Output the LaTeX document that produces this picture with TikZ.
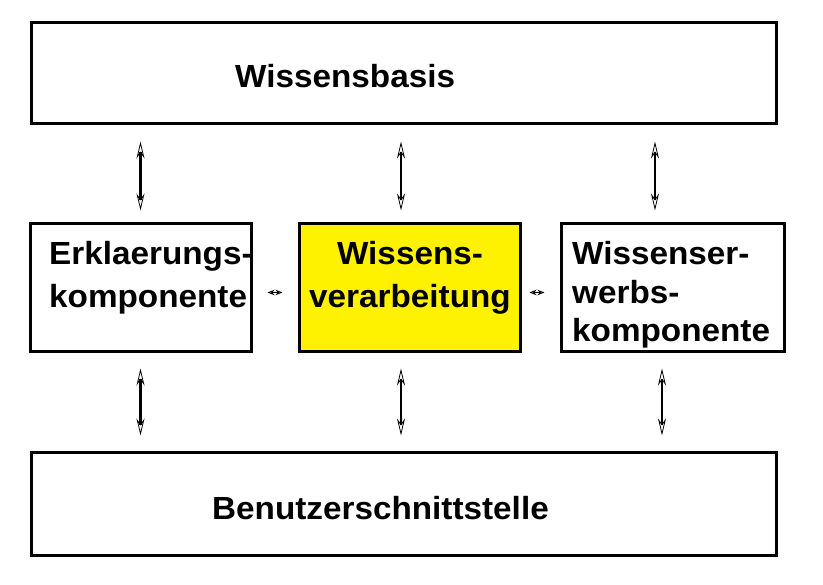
\documentclass[tikz,border=0pt]{standalone}
\usepackage{fontspec}
\setmainfont{Liberation Sans}[FakeStretch=1.04]
\usetikzlibrary{arrows.meta}

\begin{document}
\begin{tikzpicture}[x=1pt, y=-1pt,
    box/.style = {draw, line width=3pt, inner sep=0pt},
    lbl/.style = {inner sep=0pt, font=\fontsize{32}{43}\bfseries\selectfont},
    dbl/.style = {{Stealth[open, length=17pt, width=8pt, line width'=0.8pt]}-{Stealth[open, length=17pt, width=8pt, line width'=0.8pt]}, line width=2.2pt},
    sdbl/.style = {{Stealth[open, length=7pt, width=5.5pt, line width'=0.8pt]}-{Stealth[open, length=7pt, width=5.5pt, line width'=0.8pt]}, line width=1.4pt}]
    \useasboundingbox[fill=white] (0,0) rectangle (823,585);
    % boxes
    \node[box, minimum width=745pt, minimum height=101pt] (wb) at (403.5,73.5) {};
    \node[box, minimum width=221pt, minimum height=128pt] (ek) at (140.5,288) {};
    \node[box, fill=yellow, minimum width=221pt, minimum height=128pt] (wv) at (409.5,288) {};
    \node[box, minimum width=223pt, minimum height=128pt] (we) at (672.5,288) {};
    \node[box, minimum width=745pt, minimum height=103pt] (bs) at (403.5,504.5) {};
    % texts
    \node[lbl, anchor=base west] (twb) at (235,88) {Wissensbasis};
    \node[lbl, anchor=base west] (tbs) at (212,519) {Benutzerschnittstelle};
    \node[lbl, anchor=base west, align=left] (tek) at (49,308) {Erklaerungs-\\komponente};
    \node[lbl, anchor=base, align=center] (twv) at (410,308) {Wissens-\\verarbeitung};
    \node[lbl, anchor=base west, align=left, font=\fontsize{32}{38.5}\bfseries\selectfont] (twe) at (572,342) {Wissenser-\\werbs-\\komponente};
    % arrows
    \draw[dbl, shorten <=12pt, shorten >=16pt] (ek.north) -- (ek.north |- wb.south);
    \draw[dbl, shorten <=12pt, shorten >=16pt] ([xshift=-8.5pt]wv.north) -- ([xshift=-8.5pt]wv.north |- wb.south);
    \draw[dbl, shorten <=12pt, shorten >=16pt] ([xshift=-17.5pt]we.north) -- ([xshift=-17.5pt]we.north |- wb.south);
    \draw[dbl, shorten <=15pt, shorten >=16pt] (ek.south) -- (ek.south |- bs.north);
    \draw[dbl, shorten <=15pt, shorten >=16pt] ([xshift=-8.5pt]wv.south) -- ([xshift=-8.5pt]wv.south |- bs.north);
    \draw[dbl, shorten <=15pt, shorten >=16pt] ([xshift=-10.5pt]we.south) -- ([xshift=-10.5pt]we.south |- bs.north);
    \draw[sdbl, shorten <=15pt, shorten >=15pt] ([yshift=-4.5pt]ek.east) -- ([yshift=-4.5pt]ek.east -| wv.west);
    \draw[sdbl, shorten <=8pt, shorten >=15pt] ([yshift=-4.5pt]wv.east) -- ([yshift=-4.5pt]wv.east -| we.west);
\end{tikzpicture}
\end{document}
